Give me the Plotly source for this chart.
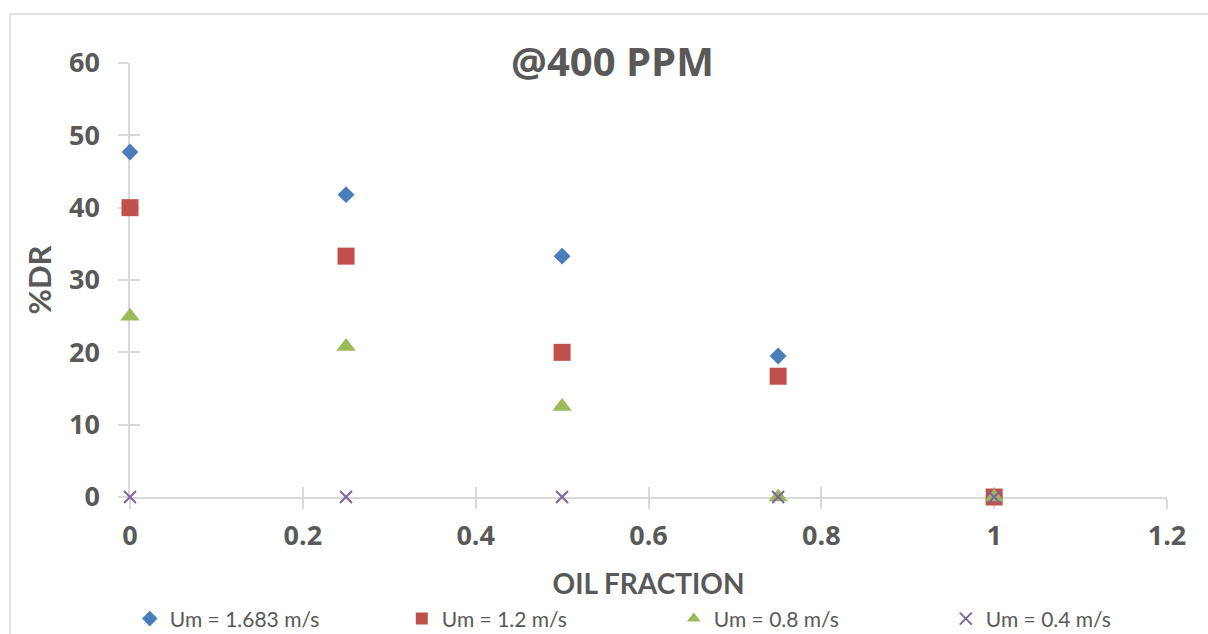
import plotly.graph_objects as go

oil_fraction = [0, 0.25, 0.5, 0.75, 1.0]
dr_um_1683 = [47.7, 41.8, 33.3, 19.5, 0]
dr_um_12 = [40.0, 33.3, 20.0, 16.7, 0]
dr_um_08 = [25.0, 20.8, 12.5, 0, 0]
dr_um_04 = [0, 0, 0, 0, 0]

series_names = ["Um = 1.683 m/s", "Um = 1.2 m/s", "Um = 0.8 m/s", "Um = 0.4 m/s"]
x_ticks = [0, 0.2, 0.4, 0.6, 0.8, 1.0, 1.2]
x_tick_text = ["0", "0.2", "0.4", "0.6", "0.8", "1", "1.2"]
y_ticks = [0, 10, 20, 30, 40, 50, 60]

GRAY = "#595959"
AXIS = "#d9d9d9"
FONT = "Lato"

fig = go.Figure()
# empty trace on the overlay axes so the inner half of the cross ticks is drawn
fig.add_trace(go.Scatter(x=[], y=[], xaxis="x2", yaxis="y2", showlegend=False,
                         hoverinfo="skip"))

styles = [
    dict(symbol="diamond", size=13, color="#4a7ebb"),
    dict(symbol="square", size=17, color="#c0504d"),
    dict(symbol="triangle-up", size=17, color="#9bbb59"),
    dict(symbol="x-thin", size=12, color="#8064a2", line=dict(color="#8064a2", width=2)),
]
for name, ys, st in zip(series_names, [dr_um_1683, dr_um_12, dr_um_08, dr_um_04], styles):
    fig.add_trace(go.Scatter(x=oil_fraction, y=ys, mode="markers", name=name,
                             marker=st, cliponaxis=False))

fig.update_layout(
    width=1208, height=634,
    margin=dict(l=130, r=41, t=63, b=137, autoexpand=False),
    paper_bgcolor="white", plot_bgcolor="white",
    title=dict(text="<b>@400 PPM</b>", x=0.507, xanchor="center", y=0.902, yanchor="middle",
               font=dict(family="Open Sans", size=40, color=GRAY)),
    xaxis=dict(range=[0, 1.2], tickvals=x_ticks, ticktext=x_tick_text, automargin=False,
               showgrid=False, zeroline=False, showline=True, linecolor=AXIS, linewidth=1.5,
               ticks="outside", ticklen=10, tickwidth=1.5, tickcolor=AXIS,
               layer="below traces",
               tickfont=dict(family="Open Sans", size=27, color=GRAY, weight="bold"),
               ticklabelstandoff=4,
               title=dict(text="OIL FRACTION", standoff=22,
                          font=dict(family=FONT, size=28, color=GRAY, weight="bold"))),
    yaxis=dict(range=[0, 60], tickvals=y_ticks, automargin=False,
               showgrid=False, zeroline=False, showline=True, linecolor=AXIS, linewidth=1.5,
               ticks="outside", ticklen=10, tickwidth=1.5, tickcolor=AXIS,
               layer="below traces",
               tickfont=dict(family="Open Sans", size=27, color=GRAY, weight="bold"),
               ticklabelstandoff=13,
               title=dict(text="%DR", standoff=8,
                          font=dict(family=FONT, size=31, color=GRAY, weight="bold"))),
    xaxis2=dict(range=[0, 1.2], tickvals=x_ticks, overlaying="x", anchor="y2", side="bottom",
                showgrid=False, zeroline=False, showline=False, showticklabels=False,
                ticks="inside", ticklen=10, tickwidth=1.5, tickcolor=AXIS,
                layer="below traces"),
    yaxis2=dict(range=[0, 60], tickvals=y_ticks, overlaying="y", anchor="x2", side="left",
                showgrid=False, zeroline=False, showline=False, showticklabels=False,
                ticks="inside", ticklen=10, tickwidth=1.5, tickcolor=AXIS,
                layer="below traces"),
    legend=dict(orientation="h", x=-0.0002, xanchor="left", y=-0.281, yanchor="middle",
                font=dict(family=FONT, size=21, color=GRAY), entrywidth=227,
                itemsizing="constant"),
    showlegend=True,
)

# light chart-area border (open at right/bottom edges like the reference)
fig.add_shape(type="rect", xref="paper", yref="paper",
              x0=-0.1157, x1=1.05, y0=-0.4, y1=1.1129,
              line=dict(color="#d9d9d9", width=1.5), fillcolor="rgba(0,0,0,0)", layer="below")

fig.write_html("out.html")
